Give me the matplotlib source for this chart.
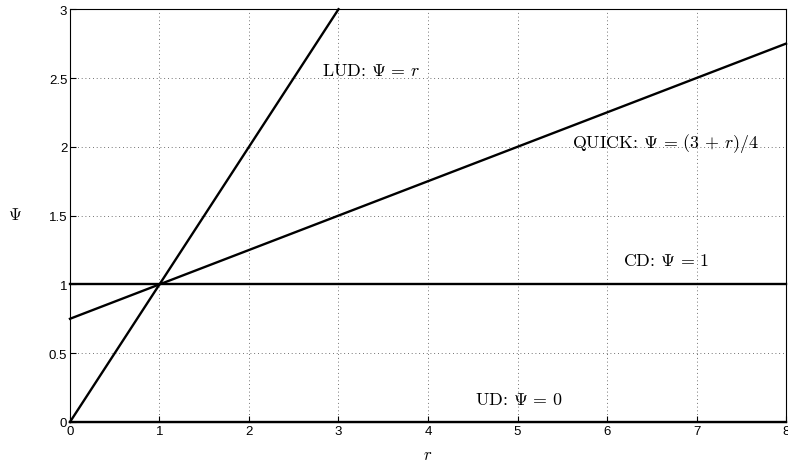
import numpy as np
import matplotlib.pyplot as plt

plt.rcParams['mathtext.fontset'] = 'cm'
plt.rcParams['font.family'] = ['Liberation Sans', 'DejaVu Sans']

# limiter endpoints, Psi(r) for each scheme
r_lud = [0, 3]
psi_lud = [0, 3]
r_quick = [0, 8]
psi_quick = [0.75, 2.75]
r_cd = [0, 8]
psi_cd = [1, 1]
r_ud = [0, 8]
psi_ud = [0, 0]

xticks = [0, 1, 2, 3, 4, 5, 6, 7, 8]
yticks = [0, 0.5, 1, 1.5, 2, 2.5, 3]
yticklabels = ['0', '0.5', '1', '1.5', '2', '2.5', '3']

fig = plt.figure(figsize=(7.88, 4.64), dpi=100)
ax = fig.add_axes([0.0888, 0.0884, 0.9087, 0.8896])

for r, p in [(r_lud, psi_lud), (r_quick, psi_quick), (r_cd, psi_cd), (r_ud, psi_ud)]:
    ax.plot(r, p, 'k-', lw=1.7, clip_on=False, zorder=3)

ax.set_xlim(0, 8)
ax.set_ylim(0, 3)
ax.set_xticks(xticks)
ax.set_yticks(yticks)
ax.set_yticklabels(yticklabels)
ax.tick_params(direction='in', length=4, labelsize=9.5, width=0.8, pad=2)
ax.grid(True, linestyle=(0, (1, 3.5)), color='#444444', lw=0.6)
for s in ax.spines.values():
    s.set_linewidth(0.8)

fs = 12.9
lab = dict(fontsize=fs, va='center', family='cmr10')
ax.text(2.82, 2.56, r'LUD: $\Psi\,=\,r$', **lab)
ax.text(5.61, 2.03, r'QUICK: $\Psi\,=\,(3\,+\,r)/4$', **lab)
ax.text(6.18, 1.18, r'CD: $\Psi\,=\,1$', **lab)
ax.text(4.52, 0.17, r'UD: $\Psi\,=\,0$', **lab)

fig.text(15 / 788, 1 - 215 / 464, r'$\Psi$', fontsize=12, ha='center', va='center')
fig.text(428 / 788, 1 - 456 / 464, r'$r$', fontsize=12, ha='center', va='center')

fig.savefig('out.png', dpi=100)
